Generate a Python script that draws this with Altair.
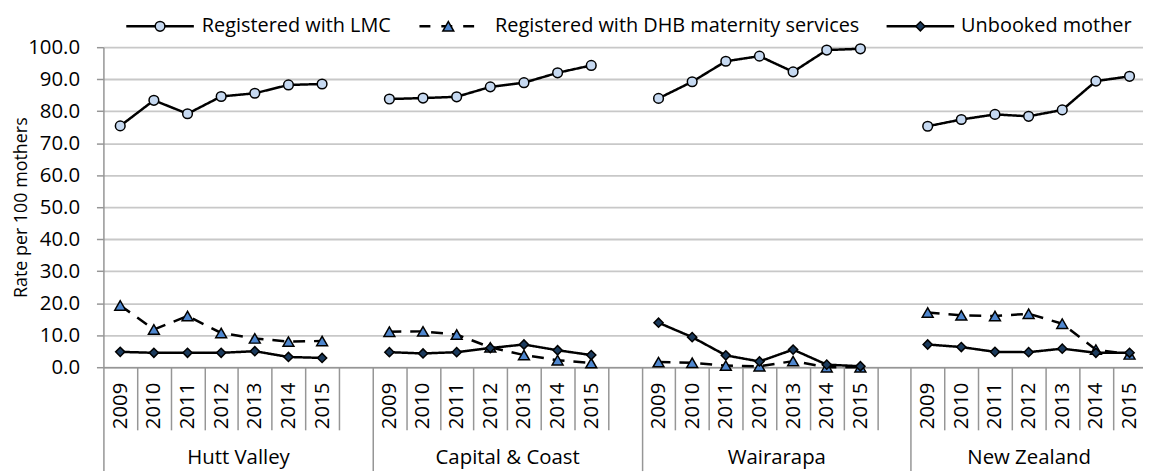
import altair as alt
import pandas as pd

GROUPS = ["Hutt Valley", "Capital & Coast", "Wairarapa", "New Zealand"]
YEARS = ["2009", "2010", "2011", "2012", "2013", "2014", "2015"]
SERIES = ["Registered with LMC", "Registered with DHB maternity services", "Unbooked mother"]

LMC = [
    [75.4, 83.4, 79.2, 84.6, 85.6, 88.2, 88.5],
    [83.8, 84.1, 84.5, 87.6, 88.9, 92.0, 94.3],
    [84.0, 89.2, 95.6, 97.2, 92.3, 99.1, 99.5],
    [75.3, 77.4, 79.0, 78.4, 80.4, 89.4, 90.9],
]
DHB = [
    [19.3, 11.8, 16.0, 10.7, 9.0, 8.0, 8.2],
    [11.1, 11.2, 10.2, 6.2, 3.8, 2.2, 1.3],
    [1.6, 1.4, 0.5, 0.3, 1.9, 0.0, 0.0],
    [17.1, 16.2, 16.0, 16.7, 13.6, 5.5, 4.0],
]
UNBOOKED = [
    [4.8, 4.5, 4.5, 4.5, 5.0, 3.2, 2.9],
    [4.7, 4.3, 4.7, 6.0, 7.1, 5.3, 3.8],
    [13.9, 9.4, 3.7, 1.8, 5.5, 0.8, 0.3],
    [7.1, 6.3, 4.8, 4.7, 5.8, 4.5, 4.5],
]

# layout / style settings
SLOTS = 8          # 7 years + 1 blank category per group
TOTAL_SLOTS = 31
GRAY = "#969696"
FONT = "Open Sans"
AXFS = 20.5
LEGFS = 20
FILLS = ["#C6D9F1", "#4F87CF", "#1B3A5C"]
SHAPES = ["circle", "triangle-up", "diamond"]
SIZES = [95, 120, 85]
DASHES = [[1, 0], [12, 9], [1, 0]]
LEG_DASHES = [[1, 0], [11, 11], [1, 0]]
LEG_SYM_X = [57, 347, 822]
LEG_HALF = [34, 29, 34]
LEG_TEXT_X = [99, 394, 863]
LEG_Y = -21

rows = []
for si, (s, vals) in enumerate(zip(SERIES, [LMC, DHB, UNBOOKED])):
    for gi, g in enumerate(GROUPS):
        for yi, y in enumerate(YEARS):
            rows.append({"series": s, "group": g, "year": y, "value": vals[gi][yi],
                         "pos": gi * SLOTS + yi + 0.5, "key": f"{si}-{gi}"})
df = pd.DataFrame(rows)

short_b = [v for v in range(TOTAL_SLOTS) if v % SLOTS != 0]
long_b = [v for v in range(TOTAL_SLOTS) if v % SLOTS == 0]
grp_c = [(gi * SLOTS + min(gi * SLOTS + SLOTS, TOTAL_SLOTS)) / 2 for gi in range(len(GROUPS))]

xscale = alt.Scale(domain=[0, 30.9], nice=False, zero=False)
yscale = alt.Scale(domain=[0, 100], nice=False)

years_arr = "[" + ",".join(f"'{y}'" for y in YEARS) + "]"
groups_arr = "[" + ",".join(f"'{g}'" for g in GROUPS) + "]"

axisA = alt.Axis(values=df["pos"].unique().tolist(), labelExpr=f"{years_arr}[floor(datum.value) % {SLOTS}]",
                 labelAngle=270, labelAlign="right", labelBaseline="middle", labelPadding=15,
                 ticks=False, tickSize=0, grid=False, domain=True, domainColor=GRAY, domainWidth=1.5,
                 labelFontSize=AXFS, labelFlush=False, labelOverlap=False, title=None, orient="bottom")
axisB1 = alt.Axis(values=short_b, labels=False, ticks=True, tickSize=63, tickColor=GRAY, tickWidth=1.5,
                  grid=False, domain=False, title=None, orient="bottom")
axisB2 = alt.Axis(values=long_b, labels=False, ticks=True, tickSize=104, tickColor=GRAY, tickWidth=1.5,
                  grid=False, domain=False, title=None, orient="bottom")
axisC = alt.Axis(values=grp_c, labelExpr=f"{groups_arr}[floor(datum.value / {SLOTS})]",
                 labelAngle=0, labelAlign="center", labelBaseline="alphabetic", labelPadding=97,
                 ticks=False, tickSize=0, grid=False, domain=False, labelFontSize=AXFS,
                 labelFlush=False, labelOverlap=False, title=None, orient="bottom")
yaxis = alt.Axis(values=list(range(0, 101, 10)), format=".1f", tickSize=7, labelPadding=17,
                 labelFontSize=AXFS, tickColor=GRAY, tickWidth=1.5, domainColor=GRAY, domainWidth=1.5,
                 gridColor="#c8c8c8", gridWidth=1.8, title="Rate per 100 mothers", titleFontSize=18,
                 titleFontWeight="normal", titleX=-82, titleY=161, titleAngle=270, titleAlign="center",
                 titleBaseline="middle")

lines = alt.Chart(df).mark_line(color="black", strokeWidth=2.5).encode(
    x=alt.X("pos:Q", scale=xscale, axis=axisA),
    y=alt.Y("value:Q", scale=yscale, axis=yaxis),
    detail="key:N",
    order="pos:Q",
    strokeDash=alt.StrokeDash("series:N", scale=alt.Scale(domain=SERIES, range=DASHES), legend=None),
)

pts = []
for s, f, sh, sz in zip(SERIES, FILLS, SHAPES, SIZES):
    pts.append(alt.Chart(df).transform_filter(alt.datum.series == s).mark_point(
        shape=sh, filled=True, fill=f, stroke="black", strokeWidth=1.5, size=sz, opacity=1).encode(
        x=alt.X("pos:Q", scale=xscale, axis=None),
        y=alt.Y("value:Q", scale=yscale, axis=None)))

b1 = alt.Chart(pd.DataFrame({"b": short_b})).mark_point(opacity=0).encode(
    x=alt.X("b:Q", scale=xscale, axis=axisB1), y=alt.value(0))
b2 = alt.Chart(pd.DataFrame({"b": long_b})).mark_point(opacity=0).encode(
    x=alt.X("b:Q", scale=xscale, axis=axisB2), y=alt.value(0))
gc = alt.Chart(pd.DataFrame({"b": grp_c})).mark_point(opacity=0).encode(
    x=alt.X("b:Q", scale=xscale, axis=axisC), y=alt.value(0))

# legend drawn above the plot: line + marker + label for each series
one = pd.DataFrame({"k": [0]})
legend_layers = []
for i, s in enumerate(SERIES):
    cx, h = LEG_SYM_X[i], LEG_HALF[i]
    legend_layers.append(alt.Chart(one).mark_rule(color="black", strokeWidth=2.5,
                                                  strokeDash=LEG_DASHES[i]).encode(
        x=alt.value(cx - h), x2=alt.value(cx + h), y=alt.value(LEG_Y)))
    legend_layers.append(alt.Chart(one).mark_point(shape=SHAPES[i], filled=True, fill=FILLS[i],
                                                   stroke="black", strokeWidth=1.5, size=SIZES[i],
                                                   opacity=1).encode(
        x=alt.value(cx), y=alt.value(LEG_Y)))
    legend_layers.append(alt.Chart(one).mark_text(align="left", baseline="middle", fontSize=LEGFS,
                                                  font=FONT, color="#000").encode(
        x=alt.value(LEG_TEXT_X[i]), y=alt.value(LEG_Y), text=alt.value(s)))

chart = alt.layer(lines, *pts, b1, b2, gc, *legend_layers).resolve_axis(
    x="independent", y="independent").properties(
    width=1046, height=322,
    padding={"left": 96, "top": 38, "right": 0, "bottom": 104},
    autosize=alt.AutoSizeParams(type="none"),
).configure_view(stroke=None).configure_axis(
    labelFont=FONT, titleFont=FONT, labelColor="#000", titleColor="#000")

chart.save("out.html", embed_options={"renderer": "svg", "actions": False})
